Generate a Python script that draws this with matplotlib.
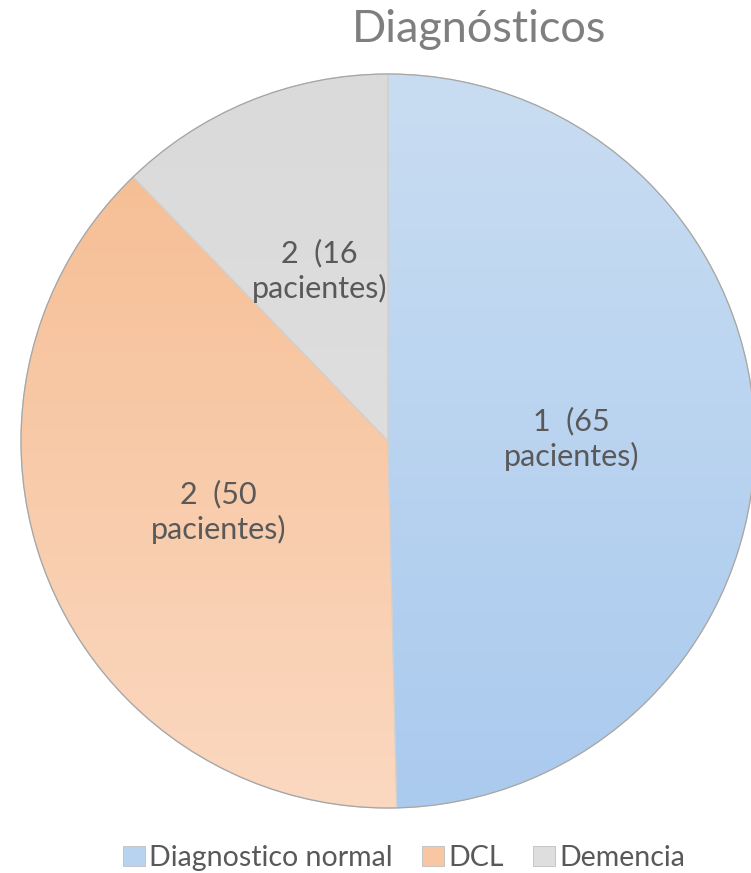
import matplotlib.pyplot as plt
import numpy as np
from matplotlib.colors import LinearSegmentedColormap
from matplotlib.patches import Patch

categories = ["Diagnostico normal", "DCL", "Demencia"]
pacientes = [65, 50, 16]
grados = ["1", "2", "2"]
slice_labels = [f"{g}  ({n}\npacientes)" for g, n in zip(grados, pacientes)]

# top / bottom colours of each slice's soft gradient
top_colors = ["#c9ddf2", "#f5bb8f", "#dadada"]
bottom_colors = ["#aacaee", "#fbd8c0", "#e2e2e2"]
legend_colors = ["#b7d3f0", "#f8c6a3", "#dedede"]

plt.rcParams["font.family"] = ["Lato", "DejaVu Sans"]

W, H = 751, 873
fig = plt.figure(figsize=(W / 100, H / 100), dpi=100)
ax = fig.add_axes([0, 0, 1, 1])

cx, cy, R = 388, H - 441, 367
wedges, _ = ax.pie(
    pacientes,
    startangle=90,
    counterclock=False,
    center=(cx, cy),
    radius=R,
    frame=True,
    wedgeprops=dict(facecolor="none", edgecolor="#d0d0d0", linewidth=0.8),
)
ax.set_xlim(0, W)
ax.set_ylim(0, H)
ax.set_axis_off()

grad = np.linspace(0, 1, 256).reshape(-1, 1)
for w, c0, c1 in zip(wedges, top_colors, bottom_colors):
    cmap = LinearSegmentedColormap.from_list("g", [c0, c1])
    im = ax.imshow(grad, cmap=cmap, aspect="auto",
                   extent=(cx - R, cx + R, cy - R, cy + R), origin="upper", zorder=0)
    im.set_clip_path(w)

# outer rim
rim = plt.Circle((cx, cy), R, fill=False, edgecolor="#a6a6a6", linewidth=0.9, zorder=3)
ax.add_patch(rim)

total = sum(pacientes)
start = 90.0
for lab, n in zip(slice_labels, pacientes):
    span = 360.0 * n / total
    mid = np.deg2rad(start - span / 2)
    start -= span
    r = 0.5 * R
    ax.text(cx + r * np.cos(mid), cy + r * np.sin(mid), lab, ha="center", va="center",
            fontsize=22, color="#595959", linespacing=1.25, zorder=4)

fig.text(479 / W, 1 - 30 / H, "Diagnósticos", ha="center", va="center",
         fontsize=32.5, color="#7f7f7f")

handles = [Patch(facecolor=c, edgecolor="#bfbfbf", linewidth=0.6) for c in legend_colors]
fig.legend(handles, categories, loc="center", bbox_to_anchor=(404 / W, 1 - 858 / H),
           ncol=3, frameon=False, fontsize=20.5, labelcolor="#595959",
           handlelength=0.75, handleheight=0.75, handletextpad=0.15, columnspacing=1.05)

fig.savefig("out.png", dpi=100)
